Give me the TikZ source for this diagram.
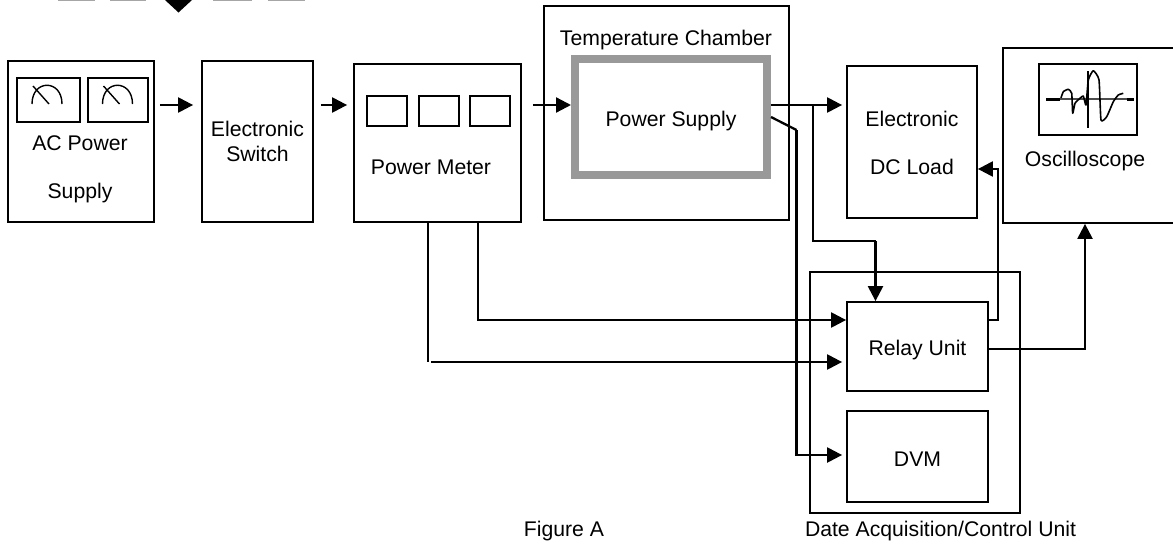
\documentclass[tikz,border=0pt]{standalone}
\usepackage{fontspec}
\setmainfont{Liberation Sans}
\usetikzlibrary{arrows.meta}
\tikzset{
  unitbox/.style={draw,line width=1.8pt,inner sep=0pt,align=center},
  dialbox/.style={draw,line width=1.8pt,inner sep=0pt},
  chamberbox/.style={draw=black!40,line width=8pt,inner sep=0pt,align=center},
  lowtext/.style={text height=#1,text depth=0pt},
  caption/.style={anchor=base,inner sep=0pt},
  wire/.style={line width=2.3pt},
  flow/.style={line width=2.3pt,-{Triangle[length=15pt,width=15pt]}},
}
\begin{document}
\begin{tikzpicture}[x=1pt,y=-1pt,font=\fontsize{21.2pt}{25pt}\selectfont]

        \useasboundingbox (0,0) rectangle (1173,546);

        % the marks cut off by the top edge
        \begin{scope}
          \clip (0,0) rectangle (1173,546);
          \fill (165,0) -- (192,0) -- (178.5,12.5) -- cycle;
          \foreach \xa/\xb in {58/95,110/146,213/252,268/305}
            \draw[black!35,line width=1.5pt] (\xa,0) -- (\xb,0);
        \end{scope}

        % main blocks
        \node[unitbox,minimum width=146pt,minimum height=161pt] (acpower) at (81,141.5) {};
        \node[unitbox,minimum width=111pt,minimum height=161pt] (switch)  at (257.5,141.5) {Electronic\\Switch};
        \node[unitbox,minimum width=167pt,minimum height=158pt] (meter)   at (437.5,143) {};
        \node[unitbox,minimum width=245pt,minimum height=214pt] (chamber) at (666.5,113) {};
        \node[chamberbox,lowtext=18pt,minimum width=192pt,minimum height=116pt] (supply) at (671,117) {Power Supply};
        \node[unitbox,minimum width=130pt,minimum height=152pt] (load)    at (912,142) {};
        \node[unitbox,minimum width=210pt,minimum height=241pt] (daq)     at (915,392.5) {};
        \node[unitbox,fill=white,lowtext=17pt,minimum width=141pt,minimum height=89pt] (relay) at (917.5,346.5) {Relay Unit};
        \node[unitbox,fill=white,lowtext=19pt,minimum width=141pt,minimum height=91pt] (dvm)   at (917.5,456.5) {DVM};
        \node[unitbox,minimum width=190pt,minimum height=175pt] (scope)   at (1098,135.5) {};

        % dials and readouts
        \node[dialbox,minimum width=63pt,minimum height=44pt] (diala) at (48.5,100) {};
        \node[dialbox,minimum width=60pt,minimum height=44pt] (dialb) at (118,100) {};
        \node[dialbox,minimum width=40pt,minimum height=30pt] (reada) at (387,111) {};
        \node[dialbox,minimum width=40pt,minimum height=30pt] (readb) at (439,111) {};
        \node[dialbox,minimum width=40pt,minimum height=30pt] (readc) at (490,111) {};
        \node[dialbox,minimum width=98pt,minimum height=71pt] (screen) at (1088,99.5) {};

        \foreach \dx in {0,70.5}
          \draw[line width=1.4pt,xshift=\dx pt]
            (32,104) .. controls (32,79) and (62,79) .. (62,104)
            (33,86) -- (49,104);

        \draw[black!70,line width=1.5pt] (1046,99) -- (1134,99);
        \draw[line width=3pt] (1046,99) -- (1060,99) (1127,99) -- (1134,99);
        \draw[line width=2pt] (1088,71) -- (1088,128);
        \draw[line width=1.6pt,line join=round] plot[smooth,tension=.3] coordinates {
          (1061,98) (1063.3,91.7) (1068.3,89.3) (1071.7,93.3) (1072.7,113.3) (1075,103.3)
          (1080,98.3) (1083.3,96) (1086,105) (1088.3,80) (1093.3,70.7) (1099,80) (1101,120)
          (1106.7,116.7) (1113.3,101.7) (1118.3,95) (1123.3,93.3)};

        % texts
        \node[caption] (actexta)    at (80,150)   {AC Power};
        \node[caption] (actextb)    at (80,198)   {Supply};
        \node[caption] (metertext)  at (431,174)  {Power Meter};
        \node[caption] (chambertext) at (666,45.7) {Temperature Chamber};
        \node[caption] (loadtexta)  at (912,126.7) {Electronic};
        \node[caption] (loadtextb)  at (912,174)  {DC Load};
        \node[caption] (scopetext)  at (1085,166.7) {Oscilloscope};
        \node[caption] (figtext)    at (564,536.7) {Figure A};
        \node[caption] (daqtext)    at (940.5,536.7) {Date Acquisition/Control Unit};

        % heights and turning points of the connectors
        \coordinate (rail) at (0,105);
        \coordinate (second) at (771,117);
        \coordinate (slant) at (796.5,130);
        \coordinate (branch) at (813,105);
        \coordinate (branchdown) at (813,241);
        \coordinate (relaytop) at (875.5,241);
        \coordinate (meterfar) at (478,222);
        \coordinate (meternear) at (428,222);
        \coordinate (loadback) at (998,169);
        \coordinate (relayback) at (998,320);
        \coordinate (relayout) at (1085,349);
        \coordinate (nearrow) at (0,362);
        \coordinate (farrow) at (0,320);
        \coordinate (dvmrow) at (0,455);

        % connectors
        \draw[flow,shorten <=5pt,shorten >=8pt] (acpower.east |- rail) -- (switch.west |- rail);
        \draw[flow,shorten <=7pt,shorten >=6pt] (switch.east |- rail) -- (meter.west |- rail);
        \draw[flow,shorten <=11pt] (meter.east |- rail) -- (supply.west |- rail);
        \draw[flow,shorten >=4pt] (supply.east |- rail) -- (load.west |- rail);
        \draw[wire] (branch) -- (branchdown) -- (relaytop);
        \draw[flow] (relaytop) -- (relaytop |- relay.north);

        \draw[wire] (second) -- (slant);
        \draw[flow,shorten >=4pt] (slant) |- (dvm.west |- dvmrow);

        \draw[flow] (meterfar) |- (relay.west |- farrow);
        \draw[wire] (meternear) -- (meternear |- nearrow);
        \draw[flow,shorten >=4pt] (meternear |- nearrow) ++(3,0) -- (relay.west |- nearrow);

        \draw[flow] (relay.east |- relayback) -- (relayback) |- (load.east |- loadback);
        \draw[flow] (relay.east |- relayout) -- (relayout) -- (relayout |- scope.south);

      \end{tikzpicture}
\end{document}
